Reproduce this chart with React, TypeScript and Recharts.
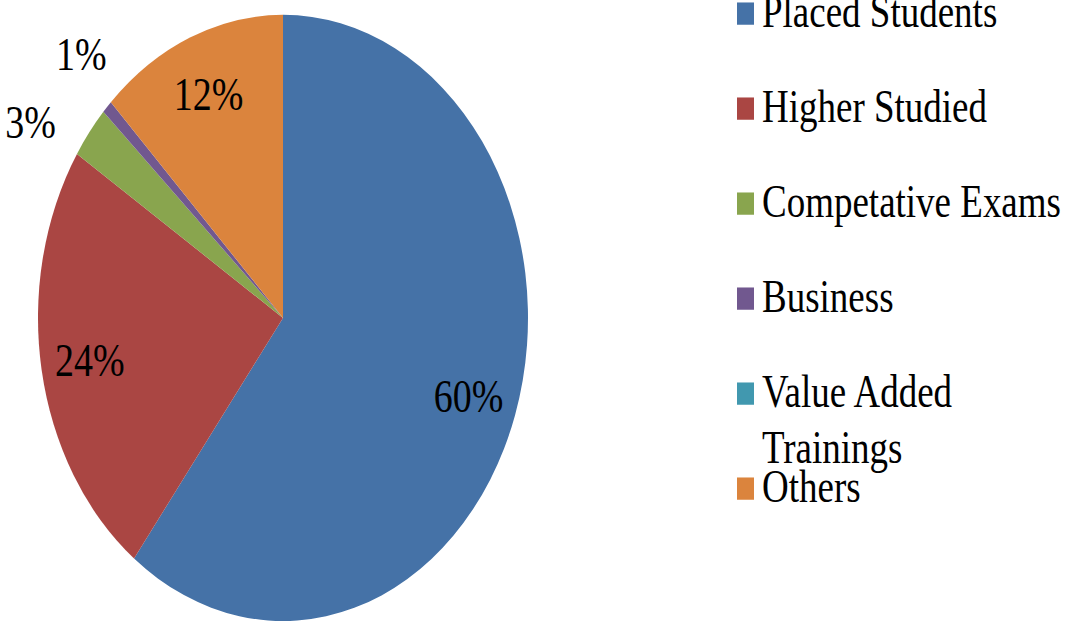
import React from 'react';
import { PieChart, Pie, Cell, Legend } from 'recharts';

const CATEGORIES = [
  'Placed Students',
  'Higher Studied',
  'Competative Exams',
  'Business',
  'Value Added Trainings',
  'Others',
];
const SHARES = [60.4, 23.7, 2.8, 0.7, 0, 12.4];
const COLORS = ['#4572A7', '#AA4643', '#89A54E', '#71588F', '#4198AF', '#DB843D'];

const FONT = 'Liberation Serif, Times New Roman, Times, serif';
const RADIAN = Math.PI / 180;
// the original picture is stretched vertically
const STRETCH = 1.237;
const CX = 283;
const CY = 257;
const R = 245;

const data = CATEGORIES.map((name, i) => ({ name, value: SHARES[i] }));

// small slices get their labels outside; spread them so they don't collide
function outsideLabelPositions() {
  const total = SHARES.reduce((a, b) => a + b, 0);
  const ry = R * 1.16;
  const rx = R * 1.13;
  let cum = 0;
  const items: { i: number; y: number }[] = [];
  SHARES.forEach((v, i) => {
    const mid = 90 - ((cum + v / 2) / total) * 360;
    cum += v;
    if (v > 0 && v / total < 0.1) {
      items.push({ i, y: CY - ry * Math.sin(mid * RADIAN) });
    }
  });
  items.sort((a, b) => a.y - b.y);
  const gap = 55;
  for (let k = 1; k < items.length; k++) {
    const d = items[k].y - items[k - 1].y;
    if (d < gap) {
      const push = (gap - d) / 2;
      items[k - 1].y -= push;
      items[k].y += push;
    }
  }
  const pos: Record<number, { x: number; y: number }> = {};
  items.forEach(({ i, y }) => {
    const dy = Math.min(Math.abs(CY - y), rx);
    pos[i] = { x: CX - Math.sqrt(rx * rx - dy * dy), y };
  });
  return pos;
}
const OUTSIDE = outsideLabelPositions();

function renderLabel(props: any) {
  const { cx, cy, midAngle, outerRadius, percent, index } = props;
  if (!percent) return null;
  const txt = `${Math.round(percent * 100)}%`;
  const common = { fill: '#000', fontFamily: FONT, fontSize: 38, dominantBaseline: 'central' as const };
  if (OUTSIDE[index]) {
    return (
      <text x={OUTSIDE[index].x} y={OUTSIDE[index].y} textAnchor="end" {...common}>
        {txt}
      </text>
    );
  }
  const r = outerRadius * 0.8;
  const x = cx + r * Math.cos(-midAngle * RADIAN);
  const y = cy + r * Math.sin(-midAngle * RADIAN);
  return (
    <text x={x} y={y} textAnchor="middle" {...common}>
      {txt}
    </text>
  );
}

function LegendBox() {
  const step = 76.8;
  return (
    <svg width={350} height={503} style={{ display: 'block' }}>
      {CATEGORIES.map((name, i) => {
        const base = 22 + i * step;
        const words = name === 'Value Added Trainings' ? ['Value Added', 'Trainings'] : [name];
        return (
          <g key={name}>
            <rect x={17} y={base - 20} width={17} height={18} fill={COLORS[i]} />
            <text x={42} y={base} fontSize={37} fill="#000" style={{ fontFamily: FONT }}>
              {words.map((w, j) => (
                <tspan key={w} x={42} dy={j === 0 ? 0 : 45}>
                  {w}
                </tspan>
              ))}
            </text>
          </g>
        );
      })}
    </svg>
  );
}

export default function App() {
  return (
    <div
      style={{
        position: 'absolute',
        left: 0,
        top: 0,
        width: 1070,
        height: 503,
        transform: `scaleY(${STRETCH})`,
        transformOrigin: 'top left',
        background: '#fff',
        fontFamily: FONT,
      }}
    >
      <PieChart width={1070} height={503} margin={{ top: 0, right: 0, bottom: 0, left: 0 }}>
        <Pie
          data={data}
          dataKey="value"
          nameKey="name"
          cx={CX}
          cy={CY}
          outerRadius={R}
          startAngle={90}
          endAngle={-270}
          stroke="none"
          label={renderLabel}
          labelLine={false}
          isAnimationActive={false}
        >
          {data.map((d, i) => (
            <Cell key={d.name} fill={COLORS[i]} />
          ))}
        </Pie>
        <Legend
          content={() => <LegendBox />}
          wrapperStyle={{ position: 'absolute', left: 720, top: 0, width: 350 }}
        />
      </PieChart>
    </div>
  );
}
